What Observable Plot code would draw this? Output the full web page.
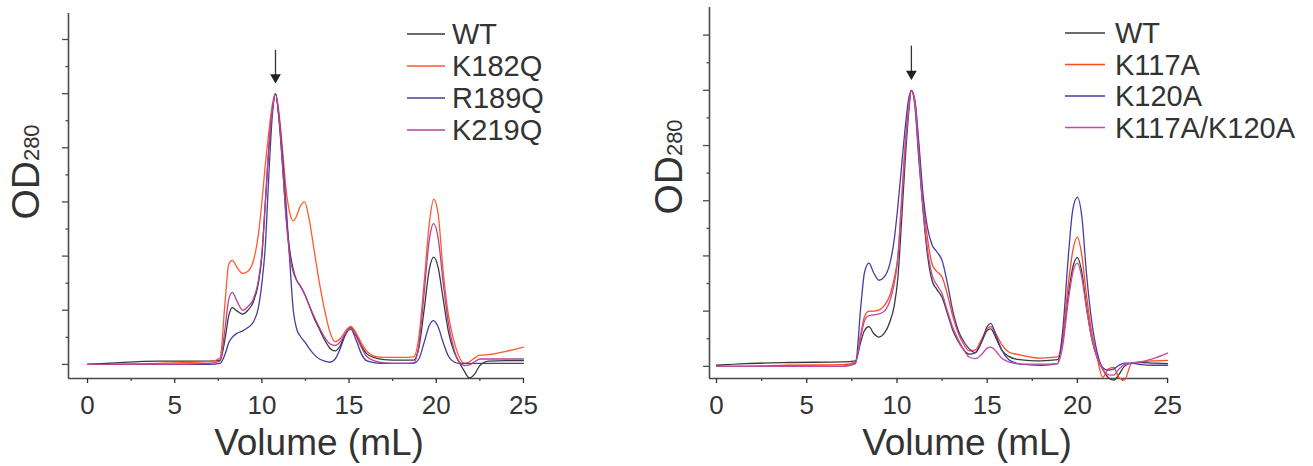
<!DOCTYPE html>
<html><head><meta charset="utf-8">
<script src="https://cdn.jsdelivr.net/npm/d3@7"></script>
<script src="https://cdn.jsdelivr.net/npm/@observablehq/plot@0.6"></script>
<style>
body{margin:0;background:#fff;}
#chart{position:relative;width:1313px;height:466px;font-family:"Liberation Sans",Arial,sans-serif;}
#chart svg{position:absolute;top:0;}
</style></head><body><div id="chart"></div>
<script>
// ---------- Left panel data ----------
const volumeA = [0,1.6,4,7.0,7.6,7.9,8.1,8.3,8.6,8.9,9.2,9.5,9.8,10.0,10.2,10.4,10.6,10.78,11.0,11.2,11.4,11.6,11.8,12.0,12.2,12.45,12.7,13.0,13.3,13.6,13.9,14.2,14.5,14.8,15.1,15.4,15.7,16.0,16.5,17,18,18.7,19.0,19.3,19.6,19.85,20.1,20.4,20.7,21.0,21.3,21.6,21.9,22.2,22.5,23,24,25];
const wtA   = [0.0,0.03,0.06,0.06,0.08,0.5,0.9,1.05,0.98,0.93,1.0,1.15,1.5,2.0,3.0,4.0,4.7,5.0,4.45,3.6,2.7,2.1,1.75,1.55,1.45,1.3,1.1,0.85,0.65,0.45,0.3,0.25,0.35,0.58,0.68,0.55,0.35,0.2,0.12,0.09,0.08,0.08,0.3,1.0,1.75,1.98,1.8,1.2,0.6,0.25,0.05,-0.12,-0.25,-0.18,-0.02,0.06,0.07,0.07];
const k182q = [null,0.0,0.02,0.05,0.12,1.2,1.85,1.92,1.78,1.68,1.72,1.9,2.4,3.0,3.7,4.3,4.8,5.0,4.6,3.9,3.2,2.8,2.65,2.75,2.92,3.0,2.7,2.1,1.5,1.0,0.6,0.42,0.48,0.62,0.7,0.58,0.4,0.25,0.15,0.13,0.13,0.14,0.5,1.5,2.6,3.05,2.8,1.7,0.9,0.45,0.15,0.02,0.05,0.12,0.17,0.18,0.24,0.32];
const r189q = [0.0,0.0,0.0,0.0,0.02,0.2,0.4,0.5,0.58,0.62,0.68,0.78,1.05,1.5,2.2,3.5,4.6,5.0,4.5,3.8,2.9,1.9,1.0,0.65,0.52,0.42,0.3,0.18,0.1,0.06,0.04,0.1,0.3,0.55,0.65,0.45,0.2,0.07,0.03,0.02,0.02,0.02,0.1,0.4,0.72,0.81,0.7,0.4,0.15,0.05,0.02,0.02,0.02,0.02,0.02,0.02,0.02,0.02];
const k219q = [0.0,0.0,0.0,0.02,0.06,0.7,1.2,1.33,1.15,1.0,1.07,1.2,1.55,2.05,3.0,4.0,4.7,5.0,4.5,3.6,2.65,2.0,1.7,1.55,1.45,1.3,1.1,0.88,0.68,0.5,0.38,0.35,0.42,0.58,0.66,0.52,0.32,0.15,0.06,0.03,0.02,0.03,0.35,1.3,2.3,2.6,2.35,1.5,0.75,0.3,0.05,-0.02,-0.01,0.05,0.1,0.1,0.1,0.1];
const namesA = ["WT","K182Q","R189Q","K219Q"];

// ---------- Right panel data ----------
const volumeB = [0,1.6,4,7.0,7.7,8.0,8.2,8.45,8.7,9.0,9.3,9.6,9.85,10.05,10.25,10.45,10.65,10.8,11.0,11.2,11.45,11.7,11.95,12.2,12.5,12.8,13.1,13.4,13.7,14.0,14.35,14.7,15.0,15.2,15.5,15.8,16.2,16.6,17.2,18,18.9,19.2,19.5,19.75,20.0,20.25,20.5,20.8,21.1,21.4,21.7,22.0,22.3,22.6,23.0,23.5,24.2,25];
const wtB   = [0.02,0.05,0.07,0.08,0.1,0.45,0.65,0.72,0.6,0.53,0.6,0.8,1.1,1.6,2.6,3.7,4.6,5.0,4.7,3.8,2.8,2.0,1.55,1.4,1.25,0.95,0.65,0.45,0.3,0.22,0.25,0.45,0.65,0.68,0.5,0.3,0.18,0.13,0.11,0.1,0.12,0.5,1.3,1.8,1.97,1.7,1.1,0.5,0.15,-0.05,-0.2,-0.25,-0.15,0.0,0.06,0.07,0.06,0.05];
const k117a = [0.0,0.0,0.02,0.03,0.08,0.6,0.9,1.0,1.0,1.02,1.1,1.28,1.6,2.0,3.0,4.0,4.7,5.0,4.8,4.0,3.0,2.3,1.85,1.72,1.62,1.3,0.9,0.6,0.4,0.28,0.3,0.5,0.68,0.72,0.58,0.4,0.26,0.22,0.18,0.15,0.17,0.55,1.5,2.1,2.34,2.0,1.3,0.6,0.15,-0.2,-0.05,-0.02,-0.2,-0.25,0.05,0.08,0.1,0.11];
const k120a = [0.0,0.0,0.0,0.0,0.05,1.1,1.7,1.87,1.7,1.56,1.62,1.85,2.3,2.9,3.6,4.3,4.85,5.0,4.8,4.1,3.1,2.5,2.2,2.08,1.92,1.5,1.0,0.65,0.45,0.32,0.25,0.45,0.72,0.78,0.55,0.3,0.12,0.06,0.03,0.02,0.05,0.7,2.0,2.85,3.06,2.7,1.7,0.8,0.25,-0.02,-0.07,-0.05,0.02,0.06,0.06,0.03,0.02,0.02];
const k117a120a = [0.0,0.0,0.0,0.0,0.06,0.55,0.82,0.92,0.93,0.95,1.0,1.18,1.5,1.95,2.9,3.9,4.7,5.0,4.75,3.9,2.85,2.1,1.65,1.48,1.32,1.0,0.7,0.48,0.3,0.17,0.14,0.22,0.33,0.35,0.27,0.15,0.08,0.05,0.04,0.04,0.05,0.4,1.2,1.7,1.87,1.6,1.05,0.5,0.15,-0.05,-0.15,-0.16,-0.05,0.03,0.06,0.08,0.14,0.24];
const namesB = ["WT","K117A","K120A","K117A/K120A"];

// ---------- Ticks ----------
const xMajor = [0,5,10,15,20,25];
const xMinor = [2.5,7.5,12.5,17.5,22.5];
const yMajor = [0,1,2,3,4,5,6];
const yMinor = [0.5,1.5,2.5,3.5,4.5,5.5];
const xLabel = "Volume (mL)";
const yLabelMain = "OD";
const yLabelSub = "280";

const axisColor = "#4a4a4a";
const textColor = "#333333";
const FONT = '"Liberation Sans", Arial, sans-serif';

function panel(cfg) {
  const {volume, names, values, colors, xDomain, yDomain, width, left, marginLeft, marginRight, marginTop,
         legendX, legendLen, legendGap, legendY0, legendStep, labelX, odX, odY} = cfg;
  const data = names.flatMap((name, i) => volume.map((v, j) => ({volume: v, od: values[i][j], series: name})));
  const wt = data.filter(d => d.series === names[0] && d.od != null);
  const peak = [wt.reduce((a, b) => (b.od > a.od ? b : a))];
  const svg = Plot.plot({
    width, height: 466, marginLeft, marginRight, marginTop, marginBottom: 88,
    style: {fontFamily: FONT, background: "white", overflow: "visible"},
    x: {domain: xDomain, axis: null},
    y: {domain: yDomain, axis: null},
    color: {domain: names, range: colors},
    marks: [
      Plot.ruleX([xDomain[0]], {stroke: axisColor, strokeWidth: 1.6}),
      Plot.ruleY([yDomain[0]], {stroke: axisColor, strokeWidth: 1.6}),
      Plot.axisX(xMajor, {anchor: "bottom", tickSize: 5, tickPadding: 12, fontSize: 26, color: textColor, strokeWidth: 1.3, label: null}),
      Plot.axisX(xMinor, {anchor: "bottom", tickSize: 3, fill: "none", stroke: axisColor, strokeWidth: 1.3, label: null}),
      Plot.axisY(yMajor, {anchor: "left", tickSize: 6, fill: "none", stroke: axisColor, strokeWidth: 1.3, label: null}),
      Plot.axisY(yMinor, {anchor: "left", tickSize: 2.5, fill: "none", stroke: axisColor, strokeWidth: 1.3, label: null}),
      Plot.line(data, {x: "volume", y: "od", z: "series", stroke: "series", strokeWidth: 1.3, curve: "monotone-x"}),
      Plot.ruleX(peak, {x: "volume", y1: d => d.od + 0.33, y2: d => d.od + 0.8, stroke: "#333", strokeWidth: 1.3}),
      Plot.dot(peak, {x: "volume", y: d => d.od + 0.3, symbol: "triangle", r: 4, fill: "#222", stroke: "none", rotate: 180})
    ]
  });
  svg.style.left = left + "px";
  const g = d3.select(svg);
  const color = svg.scale("color");
  // y label
  g.append("text")
    .attr("transform", `translate(${odX},${odY}) rotate(-90)`)
    .attr("text-anchor", "middle").attr("fill", textColor)
    .attr("font-family", FONT).attr("font-size", 39)
    .text(yLabelMain)
    .append("tspan").attr("font-size", 22).text(yLabelSub);
  // x label
  g.append("text")
    .attr("x", labelX).attr("y", 455)
    .attr("text-anchor", "middle").attr("fill", textColor)
    .attr("font-family", FONT).attr("font-size", 37)
    .text(xLabel);
  // legend
  const lg = g.append("g").attr("text-anchor", "start");
  names.forEach((n, i) => {
    const y = legendY0 + i * legendStep;
    lg.append("line").attr("x1", legendX).attr("x2", legendX + legendLen).attr("y1", y).attr("y2", y)
      .attr("stroke", color.apply(n)).attr("stroke-width", 1.4);
    lg.append("text").attr("x", legendX + legendLen + legendGap).attr("y", y).attr("dy", "0.35em")
      .attr("text-anchor", "start")
      .attr("fill", textColor).attr("font-family", FONT).attr("font-size", 29).text(n);
  });
  return svg;
}

const chart = document.getElementById("chart");
chart.append(panel({
  volume: volumeA, names: namesA, values: [wtA, k182q, r189q, k219q],
  colors: ["#3a3a3a", "#ff5a2c", "#4b3a9e", "#b5409a"],
  xDomain: [-1.09, 25.06], yDomain: [-0.26, 6.48],
  width: 640, left: 0, marginLeft: 68, marginRight: 116, marginTop: 13,
  legendX: 407, legendLen: 38, legendGap: 7, legendY0: 34, legendStep: 32,
  labelX: 319, odX: 39, odY: 172
}));
chart.append(panel({
  volume: volumeB, names: namesB, values: [wtB, k117a, k120a, k117a120a],
  colors: ["#3a3a3a", "#ff4a1c", "#4a3aa5", "#c44aa6"],
  xDomain: [-0.39, 25.05], yDomain: [-0.22, 6.5],
  width: 673, left: 640, marginLeft: 69, marginRight: 145, marginTop: 7,
  legendX: 425, legendLen: 40, legendGap: 10, legendY0: 33, legendStep: 31.5,
  labelX: 327, odX: 42, odY: 167
}));
</script></body></html>
